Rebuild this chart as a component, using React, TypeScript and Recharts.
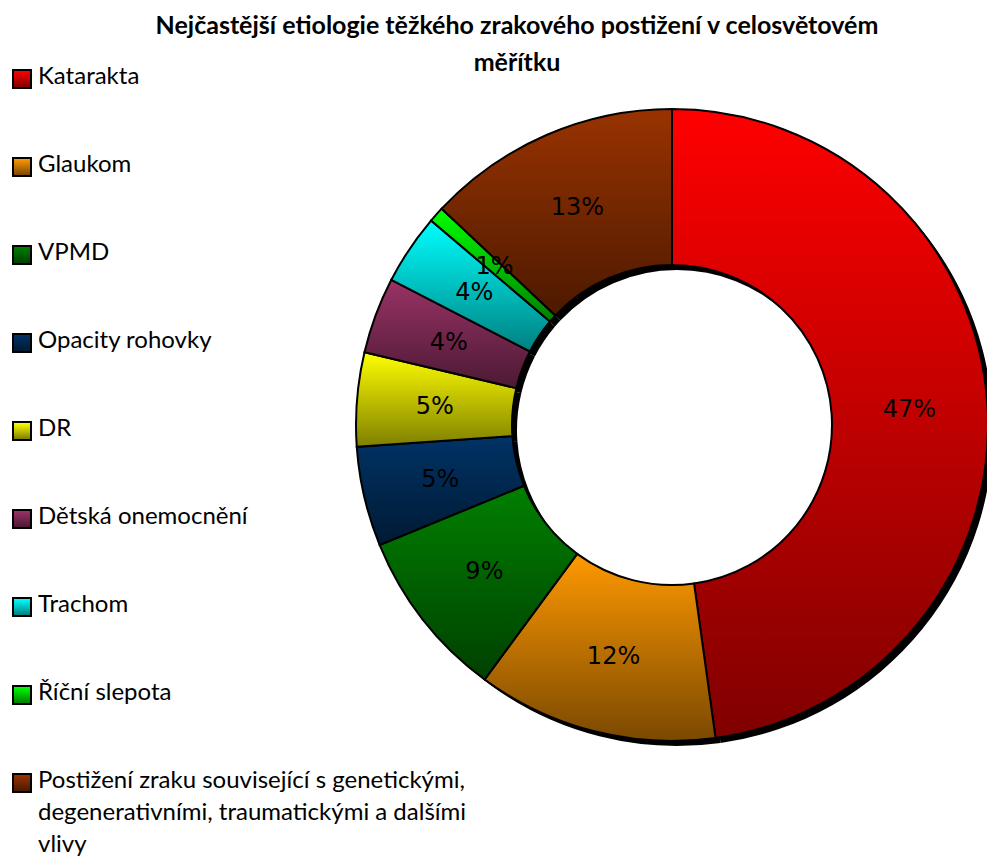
import React from "react"
import { PieChart, Pie, Cell } from "recharts"

const categories = [
  "Katarakta",
  "Glaukom",
  "VPMD",
  "Opacity rohovky",
  "DR",
  "Dětská onemocnění",
  "Trachom",
  "Říční slepota",
  "Postižení zraku související s genetickými, degenerativními, traumatickými a dalšími vlivy",
]
const values = [47.8, 12.3, 8.7, 5.1, 4.8, 3.9, 3.6, 0.8, 13]
const valueLabels = ["47%", "12%", "9%", "5%", "5%", "4%", "4%", "1%", "13%"]

// gradient stops, top -> bottom
const colorsTop = ["#ff0000", "#ff9900", "#008000", "#003366", "#ffff00", "#993366", "#00ffff", "#00ff00", "#993300"]
const colorsBottom = ["#800000", "#7a4800", "#004000", "#001a33", "#7f7f00", "#4c1933", "#008080", "#008000", "#4c1900"]

const data = categories.map((name, i) => ({ name, value: values[i] }))

const RADIAN = Math.PI / 180
const CX = 672
const CY = 425

const renderLabel = (props: any) => {
  const { cx, cy, midAngle, innerRadius, outerRadius, index } = props
  const r = (innerRadius + outerRadius) / 2
  const x = cx + r * Math.cos(-midAngle * RADIAN)
  const y = cy + r * Math.sin(-midAngle * RADIAN)
  return (
    <text x={x} y={y} fill="#000" textAnchor="middle" dominantBaseline="central"
      style={{ fontFamily: "'DejaVu Sans'", fontSize: 24 }}>
      {valueLabels[index]}
    </text>
  )
}

function ChartLegend() {
  return (
    <div style={{ position: "absolute", left: 12, top: 61, fontFamily: "Lato", fontSize: 24, color: "#000" }}>
      {categories.map((c, i) => (
        <div key={c} style={{ height: 88, display: "flex", alignItems: "flex-start" }}>
          <div style={{
            width: 16, height: 16, marginTop: 8, marginRight: 6, flexShrink: 0,
            border: "2px solid #000",
            background: `linear-gradient(${colorsTop[i]}, ${colorsBottom[i]})`,
          }} />
          <div style={{ width: 465, lineHeight: "32px", marginTop: -2 }}>{c}</div>
        </div>
      ))}
    </div>
  )
}

export default function App() {
  return (
    <div style={{ position: "absolute", left: 0, top: 0, width: 987, height: 856, background: "#fff", overflow: "hidden" }}>
      <svg width={0} height={0} style={{ position: "absolute" }}>
        <defs>
          {categories.map((c, i) => (
            <linearGradient key={c} id={`grad${i}`} x1="0" y1="0" x2="0" y2="1">
              <stop offset="0%" stopColor={colorsTop[i]} />
              <stop offset="100%" stopColor={colorsBottom[i]} />
            </linearGradient>
          ))}
        </defs>
      </svg>
      <PieChart width={987} height={856} margin={{ top: 0, right: 0, bottom: 0, left: 0 }}>
        <Pie data={data} dataKey="value" nameKey="name" cx={CX + 5} cy={CY + 5}
          innerRadius={160} outerRadius={316} startAngle={90} endAngle={-270}
          fill="#000" stroke="none" isAnimationActive={false} legendType="none" />
        <Pie data={data} dataKey="value" nameKey="name" cx={CX} cy={CY}
          innerRadius={160} outerRadius={316} startAngle={90} endAngle={-270}
          stroke="#000" strokeWidth={2} label={renderLabel} labelLine={false}
          isAnimationActive={false}>
          {data.map((d, i) => (
            <Cell key={d.name} fill={`url(#grad${i})`} />
          ))}
        </Pie>
      </PieChart>
      <div style={{
        position: "absolute", left: 117, top: 6, width: 800, textAlign: "center",
        fontFamily: "Lato", fontWeight: "bold", fontSize: 25, lineHeight: "37px",
      }}>
        Nejčastější etiologie těžkého zrakového postižení v celosvětovém<br />měřítku
      </div>
      <ChartLegend />
    </div>
  )
}
